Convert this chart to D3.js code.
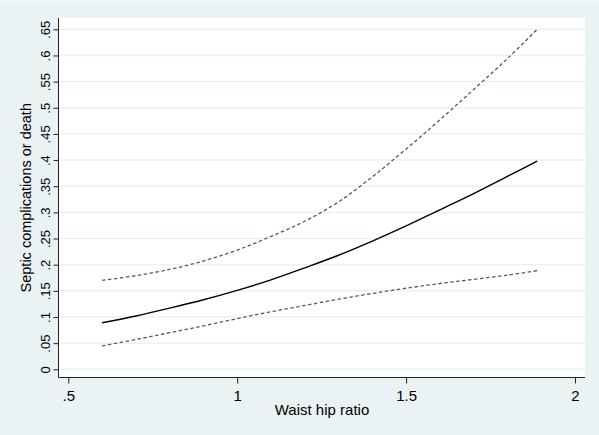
<!DOCTYPE html>
<html>
<head>
<meta charset="utf-8">
<script src="https://cdn.jsdelivr.net/npm/d3@7"></script>
<style>
  html, body { margin: 0; padding: 0; background: #EAF2F3; }
  svg { display: block; }
</style>
</head>
<body>
<svg id="chart" width="599" height="435"></svg>
<script>
// values
const ratio = [0.6, 0.7, 0.8, 0.9, 1.0, 1.1, 1.2, 1.3, 1.4, 1.5, 1.6, 1.7, 1.8, 1.888];
const fit   = [0.089, 0.102, 0.117, 0.133, 0.151, 0.171, 0.194, 0.218, 0.245, 0.274, 0.305, 0.336, 0.369, 0.398];
const upper = [0.170, 0.179, 0.191, 0.207, 0.228, 0.254, 0.283, 0.320, 0.368, 0.421, 0.477, 0.535, 0.594, 0.650];
const lower = [0.0446, 0.057, 0.070, 0.083, 0.097, 0.110, 0.122, 0.134, 0.145, 0.155, 0.164, 0.172, 0.180, 0.1885];
const xTicks = [0.5, 1, 1.5, 2];
const yTicks = d3.range(0, 14).map(i => +(i * 0.05).toFixed(2));

const W = 599, H = 435;
const plot = { left: 58.5, right: 585, top: 18, bottom: 377.5 };
const FONT = "'Liberation Sans', Arial, sans-serif";

const svg = d3.select("#chart");

svg.append("rect").attr("width", W).attr("height", H).attr("fill", "#EAF2F3");
svg.append("rect").attr("width", W).attr("height", 3).attr("fill", "#F2F7F8");

const x = d3.scaleLinear().domain([0.5, 2]).range([68.3, 575]);
const y = d3.scaleLinear().domain([0, 0.65]).range([369.3, 29.3]);

const fmt = d => d === 0 ? "0" : String(d).replace(/^0\./, ".");

// plot region
svg.append("rect")
  .attr("x", plot.left).attr("y", plot.top)
  .attr("width", plot.right - plot.left).attr("height", plot.bottom - plot.top)
  .attr("fill", "#fff");

// grid
svg.append("g").selectAll("line").data(yTicks).join("line")
  .attr("x1", plot.left).attr("x2", plot.right)
  .attr("y1", d => y(d)).attr("y2", d => y(d))
  .attr("stroke", "#EAF2F3").attr("stroke-width", 1.5);

// lines
const pts = arr => ratio.map((r, i) => [r, arr[i]]);
const line = d3.line().x(d => x(d[0])).y(d => y(d[1])).curve(d3.curveCatmullRom.alpha(0.5));

svg.append("path").attr("d", line(pts(upper)))
  .attr("fill", "none").attr("stroke", "#5a5a5a").attr("stroke-width", 1.3)
  .attr("stroke-dasharray", "3.5,2.5");
svg.append("path").attr("d", line(pts(lower)))
  .attr("fill", "none").attr("stroke", "#5a5a5a").attr("stroke-width", 1.3)
  .attr("stroke-dasharray", "3.5,2.5");
svg.append("path").attr("d", line(pts(fit)))
  .attr("fill", "none").attr("stroke", "#000").attr("stroke-width", 1.4);

// Y axis
const yAx = svg.append("g")
  .attr("transform", `translate(${plot.left},0)`)
  .call(d3.axisLeft(y).tickValues(yTicks).tickSize(5).tickSizeOuter(0).tickFormat(fmt));
yAx.select(".domain").attr("d", `M0,${plot.top}V${plot.bottom}`).attr("stroke", "#222");
yAx.selectAll(".tick line").attr("stroke", "#222");
yAx.selectAll(".tick text")
  .attr("x", null).attr("dy", null)
  .attr("transform", "translate(-9,0) rotate(-90)")
  .attr("text-anchor", "middle").attr("y", 0)
  .style("font-family", FONT).style("font-size", "13px").style("fill", "#000");

// X axis
const xAx = svg.append("g")
  .attr("transform", `translate(0,${plot.bottom})`)
  .call(d3.axisBottom(x).tickValues(xTicks).tickSize(6).tickSizeOuter(0).tickFormat(fmt));
xAx.select(".domain").attr("d", `M${plot.left},0H${plot.right}`).attr("stroke", "#222");
xAx.selectAll(".tick line").attr("stroke", "#222");
xAx.selectAll(".tick text")
  .attr("y", 23).attr("dy", null)
  .style("font-family", FONT).style("font-size", "15px").style("fill", "#000");

// titles
svg.append("text")
  .attr("transform", `translate(31,${(plot.top + plot.bottom) / 2}) rotate(-90)`)
  .attr("text-anchor", "middle")
  .style("font-family", FONT).style("font-size", "14.5px").style("fill", "#000")
  .text("Septic complications or death");
svg.append("text")
  .attr("x", 322).attr("y", 415)
  .attr("text-anchor", "middle")
  .style("font-family", FONT).style("font-size", "15px").style("fill", "#000")
  .text("Waist hip ratio");
</script>
</body>
</html>
